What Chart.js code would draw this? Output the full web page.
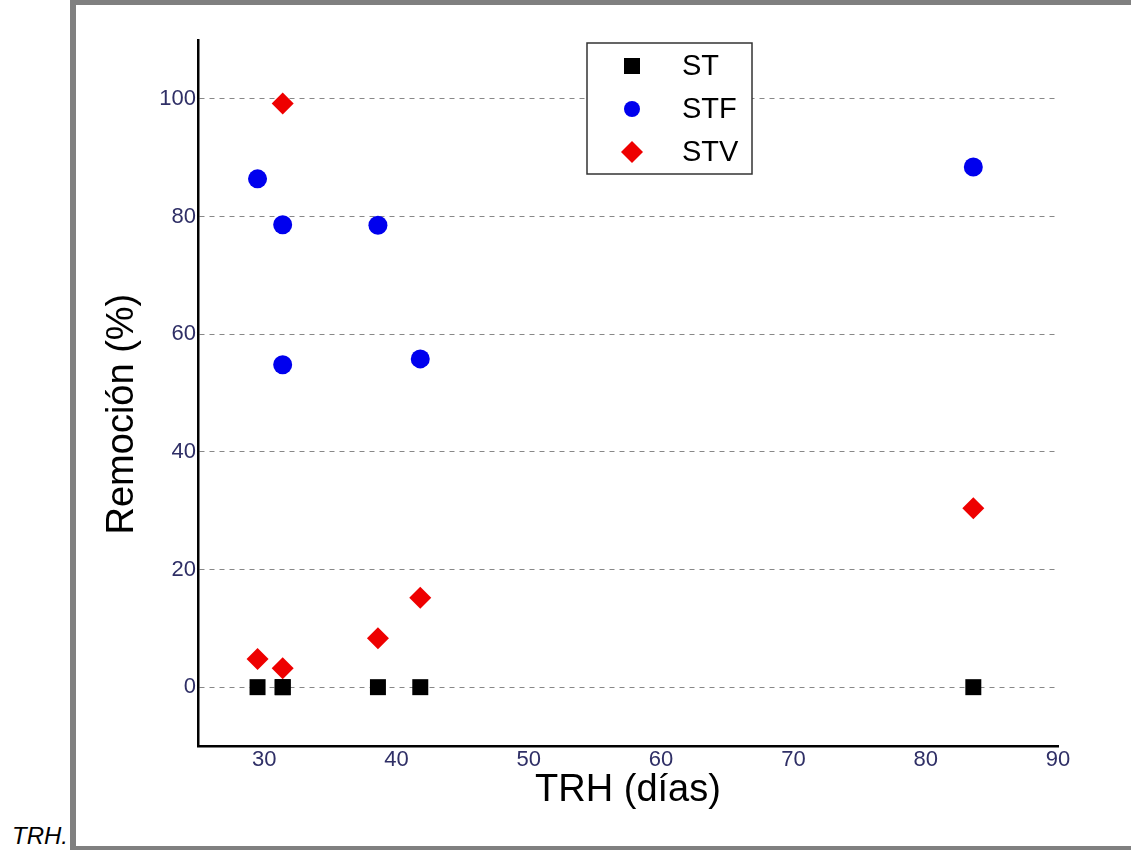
<!DOCTYPE html>
<html>
<head>
<meta charset="utf-8">
<script src="https://cdn.jsdelivr.net/npm/chart.js@4"></script>
<style>
  html, body { margin: 0; padding: 0; background: #fff; }
  body { width: 1131px; height: 850px; position: relative; overflow: hidden; font-family: "Liberation Sans", Arial, sans-serif; }
  #frame { position: absolute; left: 70px; top: 0; width: 1055px; height: 841px; border: 3px solid #808080; border-left-width: 6px; border-bottom-width: 7px; border-top-width: 5px; }
  #caption { position: absolute; left: 12px; top: 822px; font-size: 24px; font-style: italic; color: #000; }
  #wrap { position: absolute; left: 0; top: 0; width: 1131px; height: 850px; }
</style>
</head>
<body>
<div id="frame"></div>
<div id="caption">TRH.</div>
<div id="wrap"><canvas id="chart"></canvas></div>
<script>
// TRH (días) per sample, and removal % for each series
const trh    = [29.5, 31.4, 31.4, 38.6, 41.8, 83.6];
const remST  = [0, 0, 0, 0, 0, 0];
const remSTF = [86.4, 78.6, 54.8, 78.5, 55.8, 88.4];
const remSTV = [4.8, 99.2, 3.2, 8.3, 15.2, 30.4];

const xTicks = [30, 40, 50, 60, 70, 80, 90];
const yTicks = [0, 20, 40, 60, 80, 100];

const FONT = '"Liberation Sans", Arial, sans-serif';
const TICK_COLOR = '#2f2f66';

const pts = ys => trh.map((x, i) => ({ x, y: ys[i] }));

// legend boxed inside the plot, top centre
const boxLegend = {
  id: 'boxLegend',
  afterDraw(chart) {
    const { ctx } = chart;
    const x0 = 587, y0 = 43, w = 165, h = 131;
    ctx.save();
    ctx.fillStyle = '#fff';
    ctx.fillRect(x0, y0, w, h);
    ctx.strokeStyle = '#333';
    ctx.lineWidth = 1.5;
    ctx.strokeRect(x0, y0, w, h);
    ctx.font = '29px ' + FONT;
    ctx.textBaseline = 'middle';
    chart.data.datasets.forEach((ds, i) => {
      const cy = y0 + 23 + i * 43;
      const cx = x0 + 45;
      ctx.fillStyle = ds.backgroundColor;
      ctx.beginPath();
      if (ds.pointStyle === 'rect') {
        ctx.rect(cx - 8, cy - 8, 16, 16);
      } else if (ds.pointStyle === 'circle') {
        ctx.arc(cx, cy, 8, 0, Math.PI * 2);
      } else {
        ctx.moveTo(cx, cy - 11); ctx.lineTo(cx + 11, cy); ctx.lineTo(cx, cy + 11); ctx.lineTo(cx - 11, cy); ctx.closePath();
      }
      ctx.fill();
      ctx.fillStyle = '#000';
      ctx.fillText(ds.label, x0 + 95, cy + 1);
    });
    ctx.restore();
  }
};

new Chart(document.getElementById('chart'), {
  type: 'scatter',
  data: {
    datasets: [
      { label: 'ST',  data: pts(remST),  pointStyle: 'rect',    backgroundColor: '#000000', borderColor: '#000000', pointRadius: 11.3, borderWidth: 0 },
      { label: 'STF', data: pts(remSTF), pointStyle: 'circle',  backgroundColor: '#0000ee', borderColor: '#0000ee', pointRadius: 9.5, borderWidth: 0 },
      { label: 'STV', data: pts(remSTV), pointStyle: 'rectRot', backgroundColor: '#ee0000', borderColor: '#ee0000', pointRadius: 11, borderWidth: 0 },
    ]
  },
  options: {
    responsive: true,
    maintainAspectRatio: false,
    animation: false,
    layout: { padding: { left: 80, right: 73, top: 40, bottom: 30 } },
    plugins: { legend: { display: false }, tooltip: { enabled: false } },
    scales: {
      x: {
        type: 'linear',
        min: 25, max: 90,
        afterBuildTicks: s => { s.ticks = xTicks.map(v => ({ value: v })); },
        afterFit: s => { s.height = 74; },
        grid: { display: false, drawTicks: false },
        border: { display: true, color: '#000', width: 2.5 },
        ticks: { color: TICK_COLOR, font: { size: 22, family: FONT }, padding: 1, maxRotation: 0 },
        title: { display: true, text: 'TRH (días)', color: '#000', font: { size: 38, family: FONT }, padding: { top: 0, bottom: 7 } }
      },
      y: {
        type: 'linear',
        min: -10, max: 110,
        afterBuildTicks: s => { s.ticks = yTicks.map(v => ({ value: v })); },
        afterFit: s => { s.width = 118; },
        grid: { color: '#888', lineWidth: 1, drawTicks: false },
        border: { display: true, color: '#000', width: 2.5, dash: [5, 5] },
        ticks: { color: TICK_COLOR, font: { size: 22, family: FONT }, padding: 2 },
        // trailing spaces nudge the rotated title a little lower, as in the original
        title: { display: true, text: 'Remoción (%)    ', color: '#000', font: { size: 38, family: FONT }, padding: { top: 20, bottom: 0 } }
      }
    }
  },
  plugins: [boxLegend]
});
</script>
</body>
</html>
